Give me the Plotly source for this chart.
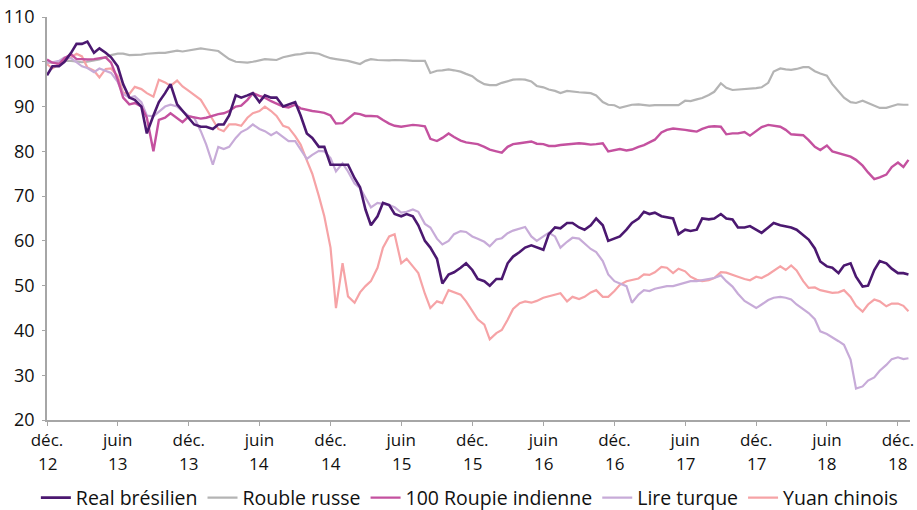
import pandas as pd
import plotly.graph_objects as go

# Semi-monthly observation dates (1st and 15th) from Dec 2012 to mid-Dec 2018, plus last obs
dates = list(pd.date_range("2012-12-01", periods=146, freq="SMS")) + [pd.Timestamp("2018-12-28")]

real_bresilien = [
    97, 99, 99, 100, 102, 104, 104, 104.5, 102, 103,
    102, 101, 99, 95, 92, 91.5, 90, 84, 88, 91,
    93, 95, 90.5, 89, 87.5, 86, 85.5, 85.5, 85, 86,
    86, 88, 92.5, 92, 92.5, 93, 91, 92.5, 92, 92,
    90, 90.5, 91, 88, 84, 83, 81, 81, 77, 77,
    77, 77, 74, 72, 67, 63.5, 65.5, 68.5, 68, 66,
    65.5, 66, 65.5, 63.5, 60, 58.5, 56, 50.5, 52.5, 53,
    54, 55, 53.5, 51.5, 51, 50, 51.5, 51.5, 55, 56.5,
    57.5, 58.5, 59, 58.5, 58, 61.5, 63, 62.8, 64, 64,
    63, 62.5, 63.5, 65, 63.5, 60, 60.5, 61, 62.5, 64,
    65, 66.5, 66, 66.3, 65.5, 65.3, 65, 61.5, 62.5, 62.2,
    62.5, 65, 64.8, 65, 66, 65, 64.8, 63, 63, 63.3,
    62.5, 61.8, 63, 64, 63.5, 63.3, 63, 62.5, 61.4, 60.3,
    58.3, 55.4, 54.3, 54, 52.8, 54.5, 55, 52, 49.8, 50,
    53.5, 55.5, 55, 53.8, 52.8, 52.8, 52.5,
]

rouble_russe = [
    99.8, 99.8, 100, 100.2, 100.2, 100, 99.9, 100, 100.2, 100.5,
    101, 101.5, 101.8, 101.8, 101.5, 101.5, 101.6, 101.8, 102, 102,
    102, 102.2, 102.5, 102.3, 102.5, 102.8, 103, 102.8, 102.5, 102.4,
    101.5, 100.6, 100, 99.9, 99.8, 100, 100.3, 100.6, 100.5, 100.4,
    101, 101.3, 101.6, 101.7, 102, 102, 101.8, 101.3, 100.8, 100.6,
    100.4, 100.2, 99.8, 99.5, 100.2, 100.6, 100.4, 100.3, 100.3, 100.4,
    100.4, 100.3, 100.2, 100.2, 100.2, 97.5, 98, 98.1, 98.3, 98.1,
    97.8, 97.3, 96.8, 95.8, 95, 94.8, 94.8, 95.3, 95.6, 96,
    96.1, 96, 95.6, 94.6, 94.3, 93.8, 93.5, 93, 93.5, 93.3,
    93.2, 93.1, 93, 92.5, 91, 90.4, 90.3, 89.7, 90, 90.4,
    90.5, 90.3, 90.2, 90.3, 90.3, 90.2, 90.2, 90.3, 91.3, 91.2,
    91.6, 91.9, 92.6, 93.3, 95.2, 94.2, 93.7, 93.8, 93.9, 93.9,
    94.1, 94.3, 95.3, 97.8, 98.5, 98.3, 98.2, 98.4, 98.8, 98.8,
    97.9, 97.4, 96.9, 95, 93.5, 92, 91, 90.8, 91.3, 90.8,
    90.3, 89.7, 89.7, 90, 90.5, 90.4, 90.4,
]

roupie_indienne = [
    100.5, 99.8, 99.5, 100.8, 101.7, 100.6, 100.6, 100.5, 100.6, 100.8,
    101, 99.8, 96, 92, 90.5, 90.8, 90, 87.5, 80, 87,
    87.5, 88.5, 87.5, 86.5, 87.8, 87.5, 87.3, 87.5, 88, 88.3,
    88.5, 89, 90, 90.2, 91.5, 93, 92.4, 92, 91.2, 90.7,
    90, 89.8, 90.4, 89.6, 89.2, 89, 88.8, 88.6, 88, 86.2,
    86.3, 87.3, 88.5, 88.3, 87.9, 87.9, 87.8, 87, 86.2, 85.7,
    85.5, 85.7, 85.9, 85.8, 85.6, 82.8, 82.3, 83, 84, 83.2,
    82.4, 82, 81.8, 81.6, 81, 80.4, 80, 79.7, 81, 81.6,
    81.8, 82, 82.2, 81.7, 81.6, 81.2, 81.2, 81.4, 81.5, 81.7,
    81.8, 81.7, 81.5, 81.6, 81.8, 80, 80.3, 80.5, 80.2, 80.4,
    81, 81.4, 82, 82.6, 84.2, 84.8, 85.1, 85, 84.8, 84.6,
    84.4, 85, 85.5, 85.6, 85.5, 83.8, 84, 84, 84.3, 83.5,
    84.6, 85.4, 85.9, 85.7, 85.5, 84.8, 83.8, 83.7, 83.6, 82.5,
    81, 80.3, 81.3, 80, 79.6, 79.2, 78.8, 78.1, 76.8, 75.3,
    73.8, 74.2, 74.8, 76.5, 77.5, 76.5, 78.1,
]

lire_turque = [
    99.8, 99.9, 100.2, 101, 100.8, 99.8, 99, 98.6, 97.7, 98.5,
    98, 97.5, 95.5, 92.8, 92, 92.3, 91, 88, 87.8, 88.8,
    90, 90.4, 90, 89, 87.9, 87.5, 84.5, 81.5, 77, 81,
    80.5, 81, 83, 84.3, 85, 86, 85, 84.5, 83.6, 84.3,
    83.1, 82.3, 82.3, 80.4, 78.3, 79.2, 80.1, 80, 78.5, 75.5,
    77.3, 75.5, 72.8, 71.8, 69.5, 67.5, 68.5, 68.3, 68, 67.5,
    66.3, 66.5, 67, 66.5, 63.8, 63, 60.5, 59.2, 60, 61.5,
    62.2, 62, 61, 60.5, 59.8, 58.8, 60.3, 60.6, 61.7, 62.3,
    62.8, 63.1, 61, 60, 61, 61.8, 61, 58.5, 59.8, 60.7,
    60.5, 59.5, 58.2, 57.5, 55.5, 52.5, 51, 50.5, 49.9, 46.2,
    48, 49, 48.8, 49.3, 49.7, 49.9, 49.9, 50.2, 50.6, 51,
    51, 51.2, 51.5, 51.7, 52.3, 51, 49.8, 48.2, 46.6, 45.8,
    45, 45.8, 46.8, 47.3, 47.5, 47.3, 46.9, 45.8, 44.8, 43.9,
    42.5, 39.8, 39.2, 38.5, 37.6, 36.8, 33.5, 27, 27.5, 28.8,
    29.5, 31, 32.3, 33.6, 34, 33.6, 33.8,
]

yuan_chinois = [
    99.5, 98.5, 99.5, 100.4, 101, 101.8, 101.2, 98.7, 98, 96.5,
    98.4, 98.5, 96.8, 93.1, 92.8, 94.4, 93.9, 93, 92.2, 96,
    95.4, 94.6, 95.8, 94.5, 93.5, 92.5, 91.5, 89.5, 87, 85,
    84.5, 86, 86, 85.7, 87.5, 88.5, 89, 90, 89, 87.9,
    85.7, 85.3, 83.4, 81.5, 78, 75, 70, 65.5, 58.5, 45,
    55, 47.6, 46.2, 48.5, 49.9, 51, 54, 58.5, 61, 61.5,
    55, 56, 54.3, 52.8, 48.2, 45, 46.5, 46.1, 49, 48.6,
    48, 46.5, 44.5, 42.5, 41.3, 38, 39.4, 40.1, 42.4, 44.8,
    46.1, 46.5, 46.2, 46.6, 47.3, 47.6, 48, 48.3, 46.5, 47.5,
    47, 47.5, 48.5, 49, 47.5, 47.5, 48.8, 50.2, 51, 51.3,
    51.6, 52.5, 52.4, 53, 54.2, 54, 52.8, 53.8, 53.2, 52,
    51.3, 51, 51.2, 51.7, 53, 52.9, 52.5, 52, 51.5, 51.2,
    52, 51.7, 52.5, 53.4, 54.3, 53.5, 54.5, 53.4, 51, 49.5,
    49.6, 49, 48.7, 48.4, 48.5, 49, 47.5, 45.5, 44.2, 45.8,
    46.9, 46.5, 45.4, 46, 46, 45.5, 44.3,
]

tick_dates = ["2012-12-01", "2013-06-01", "2013-12-01", "2014-06-01", "2014-12-01",
              "2015-06-01", "2015-12-01", "2016-06-01", "2016-12-01", "2017-06-01",
              "2017-12-01", "2018-06-01", "2018-12-01"]
tick_months = ["déc.", "juin", "déc.", "juin", "déc.", "juin", "déc.",
               "juin", "déc.", "juin", "déc.", "juin", "déc."]
tick_years = ["12", "13", "13", "14", "14", "15", "15", "16", "16", "17", "17", "18", "18"]

series = [
    ("Real brésilien", real_bresilien, "#4b1870", 2.6),
    ("Rouble russe", rouble_russe, "#b4b4b4", 2.2),
    ("100 Roupie indienne", roupie_indienne, "#c4519f", 2.4),
    ("Lire turque", lire_turque, "#c7abd8", 2.2),
    ("Yuan chinois", yuan_chinois, "#f6a3a6", 2.2),
]

fig = go.Figure()
# draw order: lighter lines below, dark purple on top
order = [1, 4, 3, 2, 0]
for i in order:
    name, vals, color, w = series[i]
    fig.add_trace(go.Scatter(
        x=dates, y=vals, mode="lines", name=name,
        line=dict(color=color, width=w), legendrank=i + 1,
    ))

FONT = "Open Sans, sans-serif"
for d, yr in zip(tick_dates, tick_years):
    fig.add_annotation(x=d, xref="x", y=0, yref="paper", yshift=-43,
                       text=yr, showarrow=False, xanchor="center", yanchor="middle",
                       font=dict(family=FONT, size=17, color="#111"))

fig.update_layout(
    width=917, height=510,
    margin=dict(l=47, r=7, t=17, b=90, autoexpand=False),
    paper_bgcolor="white", plot_bgcolor="white",
    font=dict(family=FONT, size=17, color="#111"),
    showlegend=True,
    legend=dict(orientation="h", x=0.49, xanchor="center", y=-0.145, yanchor="top",
                font=dict(family=FONT, size=19.5), itemwidth=30, tracegroupgap=0,
                traceorder="normal"),
    xaxis=dict(
        type="date", range=["2012-12-01", "2019-01-01"],
        tickvals=tick_dates, ticktext=tick_months,
        showgrid=False, zeroline=False, automargin=False,
        showline=True, linecolor="#a6a6a6", linewidth=1.5,
        ticks="outside", ticklen=4, tickcolor="#a6a6a6",
        tickfont=dict(family=FONT, size=17), ticklabeloverflow="allow",
    ),
    yaxis=dict(
        range=[20, 110], dtick=10, tick0=20,
        showgrid=False, zeroline=False, automargin=False,
        showline=True, linecolor="#a6a6a6", linewidth=1.5,
        ticks="outside", ticklen=3, tickcolor="#a6a6a6",
        tickfont=dict(family=FONT, size=18), ticklabelstandoff=4,
    ),
)

fig.write_html("out.html", config={"displayModeBar": False},
               post_script="document.body.style.margin='0';document.body.style.overflow='hidden';")
